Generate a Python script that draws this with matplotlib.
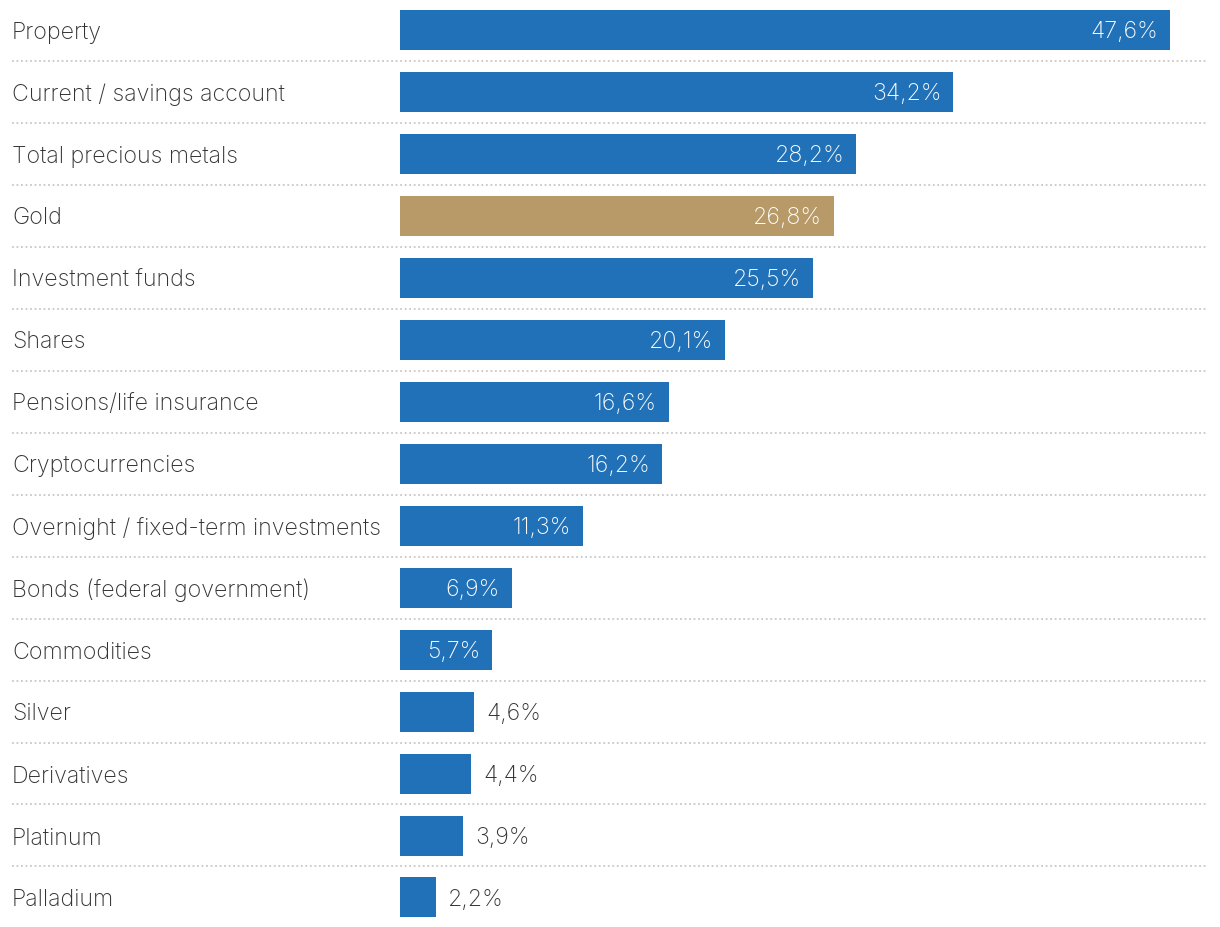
import matplotlib.pyplot as plt

categories = ["Property", "Current / savings account", "Total precious metals", "Gold",
              "Investment funds", "Shares", "Pensions/life insurance", "Cryptocurrencies",
              "Overnight / fixed-term investments", "Bonds (federal government)",
              "Commodities", "Silver", "Derivatives", "Platinum", "Palladium"]
values = [47.6, 34.2, 28.2, 26.8, 25.5, 20.1, 16.6, 16.2, 11.3, 6.9, 5.7, 4.6, 4.4, 3.9, 2.2]
highlight = "Gold"

BLUE = "#2171b8"
GOLD = "#b89a68"

W, H = 1220, 928
px_per_unit = 16.18  # pixels per percent
left_px = 400

plt.rcParams['font.family'] = ["Inter", "Lato", "DejaVu Sans"]

fig = plt.figure(figsize=(W / 100, H / 100), dpi=100)
ax = fig.add_axes([left_px / W, 0, (W - left_px) / W, 1])
ax.set_xlim(0, (W - left_px) / px_per_unit)
ax.set_ylim((H - 30.5) / 62, -30.5 / 62)
ax.axis("off")

ypos = list(range(len(categories)))
colors = [GOLD if c == highlight else BLUE for c in categories]
ax.barh(ypos, values, height=40 / 62, color=colors, zorder=2)

fs = 16.7
pad = 12 / px_per_unit
dy = 2 / 62  # nudge text down a touch
trans = ax.get_yaxis_transform()
for y, cat, v in zip(ypos, categories, values):
    ax.text(-388 / (W - left_px), y + dy, cat, transform=trans, ha="left", va="center",
            fontsize=fs, color="#333333", fontweight="light")
    label = f"{v:.1f}%".replace(".", ",")
    if v >= 5:
        ax.text(v - pad, y + dy, label, ha="right", va="center", fontsize=fs,
                color="white", fontweight="light")
    else:
        ax.text(v + pad, y + dy, label, ha="left", va="center", fontsize=fs,
                color="#333333", fontweight="light")

# dotted separators between rows
for i in range(len(categories) - 1):
    ax.plot([-388 / (W - left_px), 808 / (W - left_px)], [i + 0.5, i + 0.5], transform=trans,
            color="#c8c8c8", linestyle=(0, (1, 1.5)), linewidth=1.3, clip_on=False, zorder=1)

fig.savefig("out.png", dpi=100)
